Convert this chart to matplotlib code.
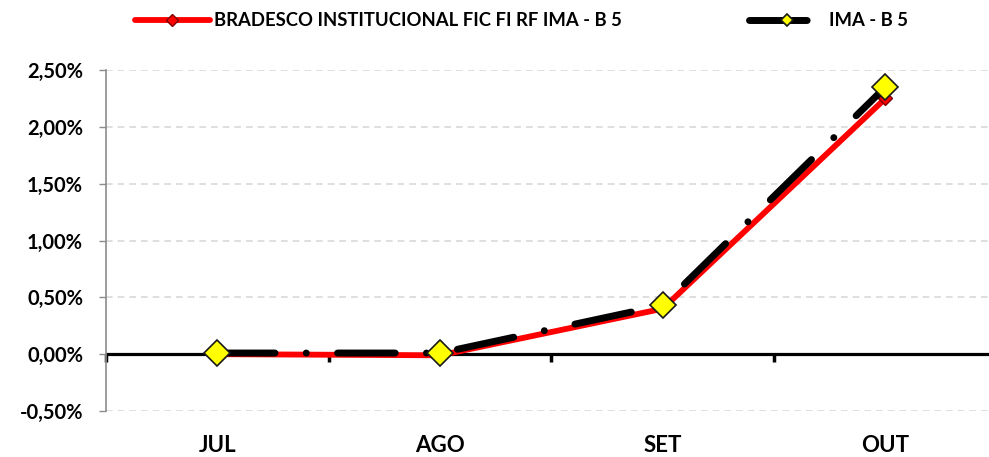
import matplotlib
matplotlib.use("Agg")
import matplotlib.pyplot as plt
from matplotlib.ticker import FuncFormatter, FixedLocator

months = ["JUL", "AGO", "SET", "OUT"]
fundo = [0.0000, -0.0001, 0.0040, 0.0225]
ima_b5 = [0.0001, 0.0001, 0.0043, 0.0235]
yticks = [-0.005, 0.0, 0.005, 0.010, 0.015, 0.020, 0.025]
label_fundo = "BRADESCO INSTITUCIONAL FIC FI RF IMA - B 5"
label_ima = "IMA - B 5"

plt.rcParams['font.family'] = ['Lato', 'DejaVu Sans']
plt.rcParams['font.weight'] = 'bold'

fig = plt.figure(figsize=(9.89, 4.57), dpi=100)
W, H = 989, 457
ax = fig.add_axes([106 / W, (H - 411) / H, (989 - 106) / W, (411 - 70) / H])

x = list(range(len(months)))
ax.plot(x, fundo, color="#ff0000", lw=4.2, solid_capstyle="round",
        marker="D", markersize=7, markerfacecolor="#ff0000",
        markeredgecolor="#7f0000", markeredgewidth=1, label=label_fundo, zorder=3)
ln, = ax.plot(x, ima_b5, color="black", lw=5, dash_capstyle="round",
              marker="D", markersize=13, markerfacecolor="#ffff00",
              markeredgecolor="#1a1a1a", markeredgewidth=1.2, label=label_ima, zorder=4)
ln.set_dashes([8.3, 4.5, 0.01, 4.5])

ax.set_xlim(-0.5, 3.465)
ax.set_ylim(-0.005, 0.025)
ax.set_yticks(yticks)
ax.yaxis.set_major_formatter(FuncFormatter(lambda v, p: ("%.2f%%" % (v * 100)).replace(".", ",")))
ax.grid(axis="y", color="#d9d9d9", linestyle=(0, (4, 3)), lw=1.2, zorder=0)
ax.axhline(0, color="black", lw=2.3, zorder=2.5)

for s in ["top", "right", "bottom"]:
    ax.spines[s].set_visible(False)
ax.spines["left"].set_color("#8c8c8c")
ax.spines["left"].set_linewidth(1.2)
ax.tick_params(axis="y", colors="#8c8c8c", length=5, width=1, labelsize=14.5,
               labelcolor="black", pad=11.5)

ax.set_xticks(x)
ax.set_xticklabels(months)
ax.tick_params(axis="x", length=0, labelsize=16, pad=17)

# category boundary ticks on the zero axis
ylo, yhi = ax.get_ylim()
zero_loc = (0 - ylo) / (yhi - ylo)
sec = ax.secondary_xaxis(zero_loc)
sec.xaxis.set_major_locator(FixedLocator([-0.5, 0.5, 1.5, 2.5]))
sec.set_xticklabels([])
sec.tick_params(axis="x", length=6, width=2.5, color="black", direction="out")
sec.spines["bottom"].set_visible(False)

leg = fig.legend(loc="upper center", bbox_to_anchor=(0.527, 1.01), ncol=2,
                 frameon=False, prop={"weight": "bold", "size": 13.3},
                 handlelength=4.1, columnspacing=6.9, handletextpad=0.2)
for h in leg.legend_handles:
    h.set_markersize(6)

fig.savefig("out.png", dpi=100)
